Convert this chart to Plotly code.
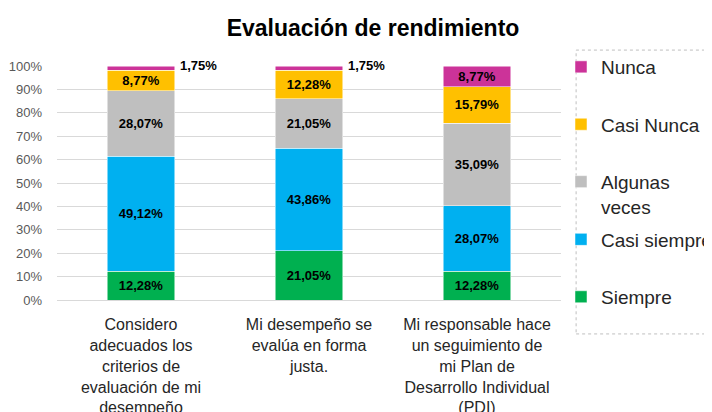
import plotly.graph_objects as go

categories = [
    "Considero<br>adecuados los<br>criterios de<br>evaluación de mi<br>desempeño",
    "Mi desempeño se<br>evalúa en forma<br>justa.",
    "Mi responsable hace<br>un seguimiento de<br>mi Plan de<br>Desarrollo Individual<br>(PDI)",
]
series_names = ["Siempre", "Casi siempre", "Algunas veces", "Casi Nunca", "Nunca"]
legend_labels = ["Siempre", "Casi siempre<br> ", "Algunas<br>veces", "Casi Nunca<br> ", "Nunca<br> "]
siempre = [0.1228, 0.2105, 0.1228]
casi_siempre = [0.4912, 0.4386, 0.2807]
algunas_veces = [0.2807, 0.2105, 0.3509]
casi_nunca = [0.0877, 0.1228, 0.1579]
nunca = [0.0175, 0.0175, 0.0877]
colors = ["#00B050", "#00B0F0", "#BFBFBF", "#FFC000", "#CC3399"]

all_values = [siempre, casi_siempre, algunas_veces, casi_nunca, nunca]

# legend is split in two boxes so plotly doesn't clip its height
legend_ids = ["legend2", "legend2", "legend", "legend", "legend"]

fig = go.Figure()
for k, (name, label, vals, col) in enumerate(zip(series_names, legend_labels, all_values, colors)):
    texts = [f"{v*100:.2f}%".replace(".", ",") if v >= 0.05 else "" for v in vals]
    fig.add_trace(go.Bar(
        x=categories, y=vals, name=label, legendgroup=name,
        legend=legend_ids[k], legendrank=len(series_names) - k,
        marker=dict(color=col, line=dict(color="white", width=0.5)),
        text=texts, textposition="inside", insidetextanchor="middle",
        textfont=dict(family="Liberation Sans, Arial", size=13, color="black", weight="bold"),
        textangle=0, constraintext="none",
        hoverinfo="skip",
    ))

# small top segments labelled outside to the right
for i, cat in enumerate(categories):
    if nunca[i] < 0.05:
        top = sum(v[i] for v in all_values)
        fig.add_annotation(
            x=cat, y=top, text=f"<b>{nunca[i]*100:.2f}%</b>".replace(".", ","),
            showarrow=False, xanchor="left", yanchor="middle", xshift=37, yshift=1,
            font=dict(family="Liberation Sans, Arial", size=13, color="black"),
        )

# dotted legend frame
fig.add_shape(type="rect", xref="paper", yref="paper", x0=1.03, x1=1.4, y0=-0.145, y1=1.068,
              line=dict(color="#BFBFBF", width=1, dash="dot"))

legend_style = dict(traceorder="grouped", x=1.0, xanchor="left", yref="container",
                    yanchor="top", valign="top", tracegroupgap=5,
                    font=dict(family="Liberation Sans, Arial", size=19, color="#262626"),
                    bgcolor="rgba(0,0,0,0)")

# page body adds an 8px offset, so the figure is 8px smaller than the window
fig.update_layout(
    width=704, height=404,
    barmode="stack", bargap=0.6,
    separators=",.",
    plot_bgcolor="white", paper_bgcolor="white",
    margin=dict(l=49, r=151, t=58, b=112, autoexpand=False),
    title=dict(text="<b>Evaluación de rendimiento</b>", x=0.5185, xref="container", xanchor="center",
               y=0.95, yref="container", yanchor="middle",
               font=dict(family="Liberation Sans, Arial", size=23, color="black")),
    font=dict(family="Liberation Sans, Arial"),
    legend=dict(legend_style, y=0.901),
    legend2=dict(legend_style, y=0.474),
    showlegend=True,
)
fig.update_yaxes(range=[0, 1], dtick=0.1, tickformat=".0%", showgrid=True, gridcolor="#D9D9D9",
                 gridwidth=1, zeroline=False, showline=False, ticks="", ticklabelstandoff=14,
                 automargin=False,
                 tickfont=dict(family="Liberation Sans, Arial", size=13, color="#595959"))
fig.update_xaxes(showline=True, linecolor="#D9D9D9", ticks="", ticklabelstandoff=10,
                 automargin=False,
                 tickfont=dict(family="Liberation Sans, Arial", size=16, color="#262626"))

fig.write_html("out.html")
